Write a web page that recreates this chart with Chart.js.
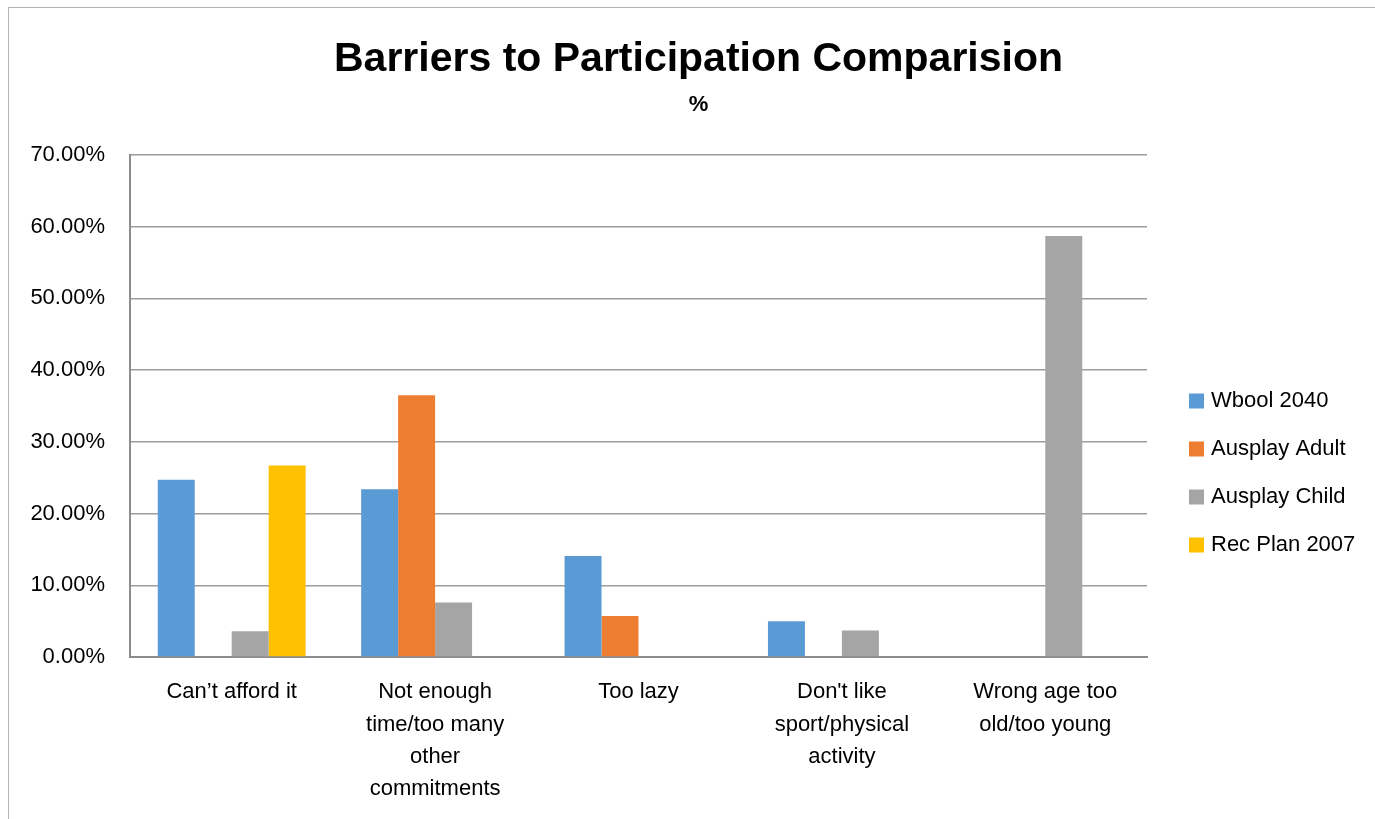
<!DOCTYPE html>
<html lang="en">
<head>
  <meta charset="UTF-8" />
  <title>Barriers to Participation Comparision</title>
  <script src="https://cdn.jsdelivr.net/npm/chart.js"></script>
  <style>
    html, body { margin: 0; padding: 0; background: #fff; overflow: hidden; }
    #frame { position: absolute; left: 8px; top: 7px; width: 1400px; height: 850px;
             border-left: 1.5px solid #b4b4b4; border-top: 1.5px solid #b4b4b4; }
    #wrap { position: absolute; left: 0; top: 0; width: 1375px; height: 819px; }
  </style>
</head>
<body>
  <div id="frame"></div>
  <div id="wrap"><canvas id="chart"></canvas></div>

  <script>
    const chartTitle = "Barriers to Participation Comparision";
    const chartSubtitle = "%";
    const categories = [
      "Can\u2019t afford it",
      ["Not enough", "time/too many", "other", "commitments"],
      "Too lazy",
      ["Don't like", "sport/physical", "activity"],
      ["Wrong age too", "old/too young"]
    ];
    const wbool2040    = [24.7, 23.4, 14.1, 5.0, null];
    const ausplayAdult = [null, 36.5, 5.7, null, null];
    const ausplayChild = [3.6, 7.6, null, 3.7, 58.7];
    const recPlan2007  = [26.7, null, null, null, null];
    const yTicks = { min: 0, max: 70, step: 10 };

    const FONT = "'Liberation Sans', Arial, sans-serif";

    // title + legend drawn by hand so they sit where Excel puts them
    const excelLook = {
      id: "excelLook",
      afterDraw(chart) {
        const { ctx, chartArea, width } = chart;
        const cx = width / 2 + 11;
        ctx.save();
        ctx.fillStyle = "#000";
        ctx.textAlign = "center";
        ctx.textBaseline = "middle";
        ctx.font = "bold 41px " + FONT;
        ctx.fillText(chartTitle, cx, 60);
        ctx.font = "bold 22px " + FONT;
        ctx.fillText(chartSubtitle, cx, 105);

        ctx.textAlign = "left";
        ctx.font = "22px " + FONT;
        chart.data.datasets.forEach((ds, i) => {
          const y = chartArea.top + 246 + i * 48;
          ctx.fillStyle = ds.backgroundColor;
          ctx.fillRect(chartArea.right + 42, y - 7.5, 15, 15);
          ctx.fillStyle = "#000";
          ctx.fillText(ds.label, chartArea.right + 64, y);
        });
        ctx.restore();
      }
    };

    new Chart(document.getElementById("chart"), {
      type: "bar",
      data: {
        labels: categories,
        datasets: [
          { label: "Wbool 2040", data: wbool2040, backgroundColor: "#5B9BD5" },
          { label: "Ausplay Adult", data: ausplayAdult, backgroundColor: "#ED7D31" },
          { label: "Ausplay Child", data: ausplayChild, backgroundColor: "#A5A5A5" },
          { label: "Rec Plan 2007", data: recPlan2007, backgroundColor: "#FFC000" }
        ]
      },
      options: {
        responsive: true,
        maintainAspectRatio: false,
        animation: false,
        categoryPercentage: 0.727,
        barPercentage: 1,
        layout: { padding: { top: 155, right: 228, left: 0, bottom: 0 } },
        plugins: {
          legend: { display: false },
          tooltip: { enabled: false },
          title: { display: false }
        },
        scales: {
          x: {
            grid: { display: false, drawTicks: false },
            border: { color: "#8c8c8c", width: 2 },
            ticks: {
              color: "#000",
              font: { family: FONT, size: 22, lineHeight: 1.47 },
              padding: 19,
              maxRotation: 0,
              autoSkip: false
            },
            afterFit(s) { s.height = 162; }
          },
          y: {
            min: yTicks.min,
            max: yTicks.max,
            grid: { color: "#9c9c9c", lineWidth: 1.5, drawTicks: false },
            border: { color: "#8c8c8c", width: 2 },
            ticks: {
              stepSize: yTicks.step,
              color: "#000",
              font: { family: FONT, size: 22 },
              padding: 25,
              callback: v => v.toFixed(2) + "%"
            },
            afterFit(s) { s.width = 130; }
          }
        }
      },
      plugins: [excelLook]
    });
  </script>
</body>
</html>
